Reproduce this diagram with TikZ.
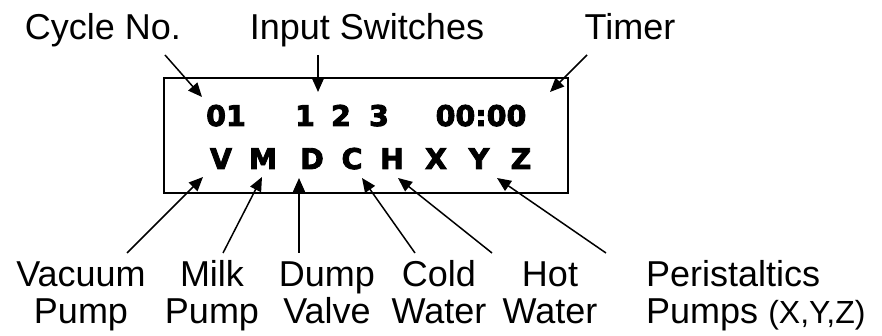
\documentclass[tikz,border=0pt]{standalone}
\usepackage{fontspec}
\setmainfont{Liberation Sans}
\newfontfamily\lcdfont{DejaVu Sans Bold}[FakeBold=3]
\usetikzlibrary{arrows.meta}

\begin{document}
\begin{tikzpicture}[
    x=1pt,y=-1pt,
    lbl/.style={font=\fontsize{36}{36}\selectfont,inner sep=0pt,align=center,anchor=base},
    lcdchar/.style={font=\lcdfont\fontsize{28.5}{28.5}\selectfont,inner sep=0pt,anchor=base},
    screen/.style={draw,line width=2pt,minimum width=404pt,minimum height=115pt,inner sep=0pt},
    arr/.style={-{Triangle[length=14pt,width=12pt]},line width=1.5pt}
  ]
  \useasboundingbox (0,0) rectangle (882,336);
  % display
  \node[screen] (lcd) at (366,135.5) {};
  \node[lcdchar] (cycno) at (226,126) {01};
  \node[lcdchar] (sw1) at (305,126) {1};
  \node[lcdchar] (sw2) at (341,126) {2};
  \node[lcdchar] (sw3) at (379,126) {3};
  \node[lcdchar] (clock) at (481,126) {00:00};
  \foreach \ch/\xx in {V/221,M/263,D/312,C/352,H/392,X/436,Y/479,Z/521}
    \node[lcdchar] (\ch) at (\xx,169) {\ch};
  % labels above
  \node[lbl] (cyc) at (103,40) {Cycle No.};
  \node[lbl] (inp) at (367,40) {Input Switches};
  \node[lbl] (tmr) at (630,40) {Timer};
  % labels below (base = last line)
  \node[lbl] (vac) at (81,323) {Vacuum\\Pump};
  \node[lbl] (milk) at (212,323) {Milk\\Pump};
  \node[lbl] (dump) at (327,323) {Dump\\Valve};
  \node[lbl] (cold) at (439,323) {Cold\\Water};
  \node[lbl] (hot) at (550,323) {Hot\\Water};
  \node[lbl,align=left,anchor=base west] (peri) at (646,323)
    {Peristaltics\\Pumps {\fontsize{32}{32}\selectfont(X,Y,Z)}};
  % arrows
  \draw[arr] ([shift={(62,15)}]cyc.base) -- ([shift={(-24,-29)}]cycno.base);
  \draw[arr] ([shift={(-49,15)}]inp.base) -- ([shift={(13,-34)}]sw1.base);
  \draw[arr] ([shift={(-43,15)}]tmr.base) -- ([shift={(69,-34)}]clock.base);
  \draw[arr] ([shift={(46,-70)}]vac.base) -- ([shift={(-18,8)}]V.base);
  \draw[arr] ([shift={(11,-70)}]milk.base) -- ([shift={(-1,8)}]M.base);
  \draw[arr] ([shift={(-28,-70)}]dump.base) -- ([shift={(-13,9)}]D.base);
  \draw[arr] ([shift={(-24,-70)}]cold.base) -- ([shift={(10,9)}]C.base);
  \draw[arr] ([shift={(-58,-70)}]hot.base) -- ([shift={(6,9)}]H.base);
  \draw[arr] ([shift={(-40,-70)}]peri.base west) -- ([shift={(18,9)}]Y.base);
\end{tikzpicture}
\end{document}
